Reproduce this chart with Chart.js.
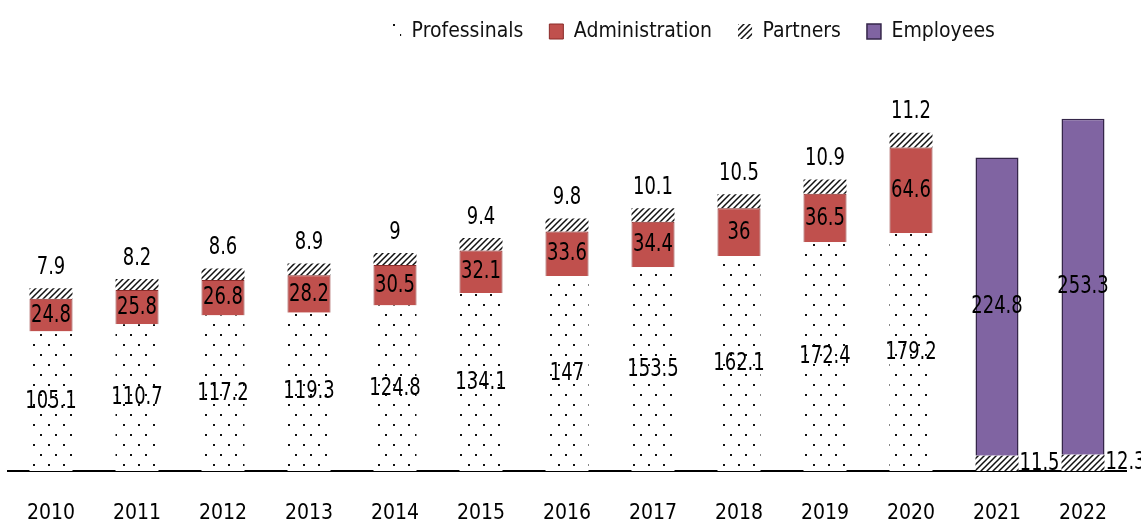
<!DOCTYPE html>
<html>
<head>
<meta charset="utf-8">
<script src="https://cdn.jsdelivr.net/npm/chart.js@4/dist/chart.umd.min.js"></script>
<style>
  html, body { margin: 0; padding: 0; background: #fff; }
  #wrap { width: 1141px; height: 526px; }
</style>
</head>
<body>
<div id="wrap"><canvas id="staffChart"></canvas></div>
<script>
// data
var years = ["2010", "2011", "2012", "2013", "2014", "2015", "2016", "2017", "2018", "2019", "2020", "2021", "2022"];
var professionals = [105.1, 110.7, 117.2, 119.3, 124.8, 134.1, 147, 153.5, 162.1, 172.4, 179.2, null, null];
var administration = [24.8, 25.8, 26.8, 28.2, 30.5, 32.1, 33.6, 34.4, 36, 36.5, 64.6, null, null];
var partners = [7.9, 8.2, 8.6, 8.9, 9, 9.4, 9.8, 10.1, 10.5, 10.9, 11.2, 11.5, 12.3];
var employees = [null, null, null, null, null, null, null, null, null, null, null, 224.8, 253.3];

var fontName = "'DejaVu Sans Condensed', 'DejaVu Sans', sans-serif";

// fill patterns
function dotPattern() {
  var c = document.createElement('canvas');
  c.width = 15; c.height = 20;
  var g = c.getContext('2d');
  g.fillStyle = '#fff';
  g.fillRect(0, 0, 15, 20);
  g.fillStyle = '#111';
  g.fillRect(3, 4, 2, 2);
  g.fillRect(10, 14, 2, 2);
  return g.createPattern(c, 'repeat');
}
function hatchPattern() {
  var c = document.createElement('canvas');
  c.width = 6; c.height = 6;
  var g = c.getContext('2d');
  g.fillStyle = '#fff';
  g.fillRect(0, 0, 6, 6);
  g.strokeStyle = '#111';
  g.lineWidth = 1.5;
  g.beginPath();
  g.moveTo(0, 6); g.lineTo(6, 0);
  g.moveTo(-3, 3); g.lineTo(3, -3);
  g.moveTo(3, 9); g.lineTo(9, 3);
  g.stroke();
  return g.createPattern(c, 'repeat');
}

// value labels drawn on / beside the segments (narrowed text like the original)
function narrowText(ctx, txt, x, y, align) {
  ctx.save();
  ctx.translate(x, y);
  ctx.scale(0.8, 1);
  ctx.textAlign = align;
  ctx.fillText(txt, 0, 0);
  ctx.restore();
}

var barLabels = {
  id: 'barLabels',
  afterDatasetsDraw: function (chart) {
    var ctx = chart.ctx;
    ctx.save();
    ctx.font = "25px " + fontName;
    ctx.fillStyle = '#000';
    ctx.textBaseline = 'middle';
    chart.data.datasets.forEach(function (ds, di) {
      var meta = chart.getDatasetMeta(di);
      meta.data.forEach(function (bar, i) {
        var v = ds.data[i];
        if (v === null || v === undefined) return;
        var mid = (bar.y + bar.base) / 2;
        if (di === 2) {
          if (professionals[i] === null) {
            narrowText(ctx, String(v), bar.x + bar.width / 2 + 1, mid, 'left');
          } else {
            narrowText(ctx, String(v), bar.x, bar.y - 21, 'center');
          }
        } else {
          narrowText(ctx, String(v), bar.x, mid, 'center');
        }
      });
    });
    ctx.restore();
  }
};

// legend sits right of centre and a little higher in the original
var legendShift = {
  id: 'legendShift',
  afterLayout: function (chart) {
    chart.legend.left += 124;
    chart.legend.right += 124;
    chart.legend.top -= 21;
    chart.legend.bottom -= 21;
  }
};

var staffChart = document.getElementById('staffChart');
var staffChartObj = new Chart(staffChart, {
  type: 'bar',
  data: {
    labels: years,
    datasets: [{
      label: 'Professinals',
      data: professionals,
      backgroundColor: dotPattern(),
      borderWidth: 0
    }, {
      label: 'Administration',
      data: administration,
      backgroundColor: '#c0504d',
      borderColor: '#8a2b29',
      borderWidth: 1
    }, {
      label: 'Partners',
      data: partners,
      backgroundColor: hatchPattern(),
      borderWidth: 0
    }, {
      label: 'Employees',
      data: employees,
      backgroundColor: '#8064a2',
      borderColor: '#35264a',
      borderWidth: 1.5
    }]
  },
  options: {
    responsive: true,
    maintainAspectRatio: false,
    animation: false,
    layout: { padding: { left: 8, right: 15, top: 16, bottom: 0 } },
    datasets: {
      bar: { barPercentage: 0.5, categoryPercentage: 1 }
    },
    plugins: {
      tooltip: { enabled: false },
      legend: {
        position: 'top',
        labels: {
          color: '#111',
          boxWidth: 14,
          boxHeight: 15,
          padding: 26,
          font: { family: fontName, size: 21 }
        }
      }
    },
    scales: {
      x: {
        stacked: true,
        grid: { display: false },
        border: { display: true, color: '#000', width: 2 },
        ticks: {
          color: '#000',
          padding: 22,
          font: { family: fontName, size: 21 }
        },
        afterFit: function (scale) {
          scale.height = 55;
        }
      },
      y: {
        stacked: true,
        display: false,
        min: 0,
        max: 300
      }
    }
  },
  plugins: [barLabels, legendShift]
});
</script>
</body>
</html>
